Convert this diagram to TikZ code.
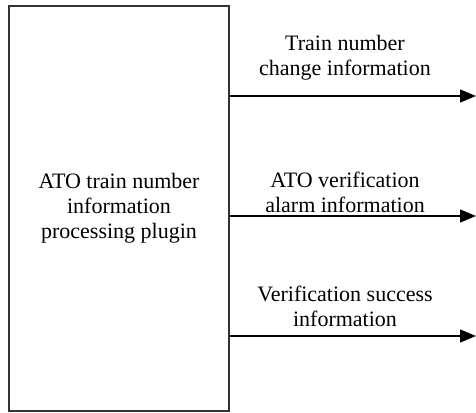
\documentclass[tikz,border=0pt]{standalone}
\usepackage{fontspec}
\setmainfont{Liberation Serif}
\usetikzlibrary{arrows.meta}
\begin{document}
\begin{tikzpicture}[x=1pt,y=1pt,
  plugin/.style={draw=black!80, line width=1.4pt, minimum width=220pt, minimum height=405pt, inner sep=0pt,
    align=center, font=\fontsize{22}{25}\selectfont},
  flow/.style={-{Triangle[length=16pt,width=13pt]}, line width=1.3pt},
  info/.style={align=center, font=\fontsize{22}{25}\selectfont, inner sep=0pt}]
  \useasboundingbox (0,0) rectangle (476,412);
  % processing block
  \node[plugin] (p) at (119,203.5) {ATO train number\\information\\processing plugin};
  % outputs
  \coordinate (e1) at (476,316);
  \coordinate (e2) at (476,196);
  \coordinate (e3) at (476,76);
  \draw[flow] (p.east |- e1) -- (e1);
  \draw[flow] (p.east |- e2) -- (e2);
  \draw[flow] (p.east |- e3) -- (e3);
  \node[info] (l1) at (345,354) {Train number\\change information};
  \node[info] (l2) at (345,220) {ATO verification\\alarm information};
  \node[info] (l3) at (345,106) {Verification success\\information};
\end{tikzpicture}
\end{document}
